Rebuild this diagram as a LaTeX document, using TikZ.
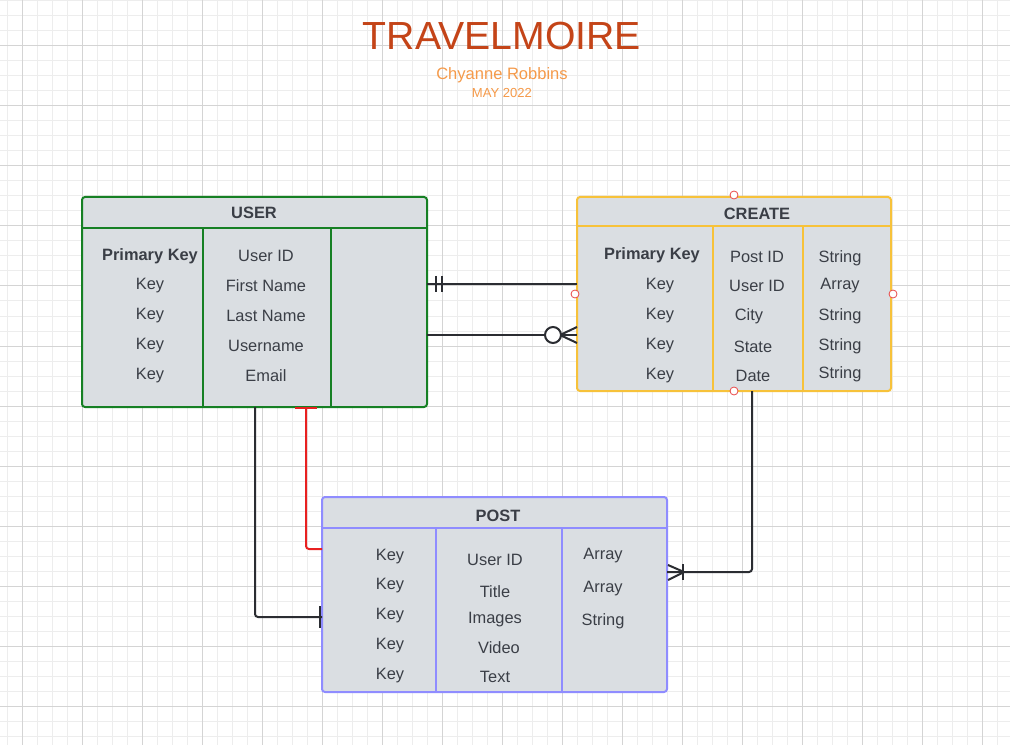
\documentclass[tikz,border=0pt]{standalone}
\usepackage{fontspec}
\setmainfont{Liberation Sans}
\usetikzlibrary{calc}
\definecolor{gridminor}{RGB}{237,237,237}
\definecolor{gridmajor}{RGB}{212,212,212}
\definecolor{tabfill}{RGB}{218,222,226}
\definecolor{celltext}{RGB}{58,62,70}
\definecolor{usergreen}{RGB}{22,128,36}
\definecolor{createyellow}{RGB}{247,194,58}
\definecolor{postblue}{RGB}{143,140,255}
\definecolor{erdark}{RGB}{43,45,50}
\definecolor{erred}{RGB}{232,32,32}
\definecolor{titlered}{RGB}{196,68,24}
\definecolor{authororange}{RGB}{245,154,74}
\definecolor{handlered}{RGB}{232,72,72}
\begin{document}
\begin{tikzpicture}[x=0.75pt,y=-0.75pt,
  tab/.style={draw, line width=1.5pt, fill=tabfill, rounded corners=2.25pt, inner sep=0pt, outer sep=0pt},
  cell/.style={text=celltext, font=\fontsize{12.3}{14}\selectfont, inner sep=0pt, yshift=-1.5pt},
  head/.style={text=celltext, font=\fontsize{12.3}{14}\selectfont\bfseries, inner sep=0pt, yshift=-1.5pt},
  erline/.style={draw=erdark, line width=1.5pt, rounded corners=2.25pt},
  handle/.style={draw=handlered, fill=white, line width=0.6pt, circle, inner sep=0pt, minimum size=6pt}]
\useasboundingbox (0,0) rectangle (1010,745);
\fill[white] (0,0) rectangle (1010,745);
% Drawing grid
\foreach \x in {7,22,...,997} \draw[gridminor, line width=0.75pt] (\x,0) -- (\x,745);
\foreach \y in {1,16,...,736} \draw[gridminor, line width=0.75pt] (0,\y) -- (1010,\y);
\foreach \x in {22,82,...,982} \draw[gridmajor, line width=0.75pt] (\x,0) -- (\x,745);
\foreach \y in {46,106,...,706} \draw[gridmajor, line width=0.75pt] (0,\y) -- (1010,\y);
% Title
\node[text=titlered, font=\fontsize{29.4}{32}\selectfont, inner sep=0pt] (title) at (502,36) {TRAVELMOIRE};
\node[text=authororange, font=\fontsize{12.4}{14}\selectfont, inner sep=0pt] (author) at (502,75) {Chyanne Robbins};
\node[text=authororange, font=\fontsize{9.8}{12}\selectfont, inner sep=0pt] (date) at (502,93) {MAY 2022};
% Table USER
\node[tab, draw=usergreen, minimum width=258.75pt, minimum height=157.5pt] (user) at (254.5,302) {};
\draw[usergreen, line width=1.5pt] (user.west |- 0,228) -- (user.east |- 0,228);
\draw[usergreen, line width=1.5pt] (203,228) -- (user.south -| 203,0);
\draw[usergreen, line width=1.5pt] (331,228) -- (user.south -| 331,0);
\node[head] (userhead) at (254,211) {USER};
\node[head] (userpk) at (150,254) {Primary Key};
\foreach \y [count=\i] in {284,314,344,374} \node[cell] (userkey\i) at (150,\y) {Key};
\node[cell] (useruid) at (266,254) {User ID};
\node[cell] (userfirst) at (266,284) {First Name};
\node[cell] (userlast) at (266,314) {Last Name};
\node[cell] (username) at (266,344) {Username};
\node[cell] (useremail) at (266,374) {Email};
% Table CREATE
\node[tab, draw=createyellow, minimum width=235.5pt, minimum height=145.5pt] (create) at (734,294) {};
\draw[createyellow, line width=1.5pt] (create.west |- 0,226) -- (create.east |- 0,226);
\draw[createyellow, line width=1.5pt] (713,226) -- (create.south -| 713,0);
\draw[createyellow, line width=1.5pt] (803,226) -- (create.south -| 803,0);
\node[head] (createhead) at (757,212) {CREATE};
\node[head] (createpk) at (652,253) {Primary Key};
\foreach \y [count=\i] in {284,314,344,374} \node[cell] (createkey\i) at (660,\y) {Key};
\node[cell] (createpid) at (757,255) {Post ID};
\node[cell] (createuid) at (757,284) {User ID};
\node[cell] (createcity) at (749,314) {City};
\node[cell] (createstate) at (753,345) {State};
\node[cell] (createdate) at (753,374) {Date};
\node[cell] (createt1) at (840,256) {String};
\node[cell] (createt2) at (840,284) {Array};
\node[cell] (createt3) at (840,314) {String};
\node[cell] (createt4) at (840,344) {String};
\node[cell] (createt5) at (840,372) {String};
% Table POST
\node[tab, draw=postblue, minimum width=258.75pt, minimum height=146.25pt] (post) at (494.5,594.5) {};
\draw[postblue, line width=1.5pt] (post.west |- 0,528) -- (post.east |- 0,528);
\draw[postblue, line width=1.5pt] (436,528) -- (post.south -| 436,0);
\draw[postblue, line width=1.5pt] (562,528) -- (post.south -| 562,0);
\node[head] (posthead) at (498,514) {POST};
\foreach \y [count=\i] in {555,584,614,644,674} \node[cell] (postkey\i) at (390,\y) {Key};
\node[cell] (postuid) at (495,558) {User ID};
\node[cell] (posttitle) at (495,590) {Title};
\node[cell] (postimages) at (495,618) {Images};
\node[cell] (postvideo) at (499,646) {Video};
\node[cell] (posttext) at (495,675) {Text};
\node[cell] (postt1) at (603,554) {Array};
\node[cell] (postt2) at (603,587) {Array};
\node[cell] (postt3) at (603,619) {String};
% Drawing connectors
% USER -- CREATE: one and only one
\coordinate (u1) at (user.east |- 0,284);
\draw[erline] (u1) -- (create.west |- 0,284);
\draw[erline] (u1) ++(9,-8) -- ++(0,16);
\draw[erline] (u1) ++(15,-8) -- ++(0,16);
% USER -- CREATE: zero or many
\coordinate (c2) at (create.west |- 0,335);
\draw[erline] (user.east |- 0,335) -- (c2);
\draw[erline] (c2) ++(-17,0) -- ++(17,-8);
\draw[erline] (c2) ++(-17,0) -- ++(17,8);
\draw[erline, fill=white] (c2) ++(-24,0) circle (6pt);
% USER -- POST (red)
\coordinate (r3) at (user.south -| 306,0);
\draw[erline, draw=erred] (r3) |- (post.west |- 0,549);
\draw[erline, draw=erred] (r3) ++(-11,1) -- ++(22,0);
% USER -- POST
\coordinate (p4) at (post.west |- 0,617);
\draw[erline] (user.south -| 255,0) |- (p4);
\draw[erline] (p4) ++(-2,-11) -- ++(0,22);
% CREATE -- POST: one or many
\coordinate (p5) at (post.east |- 0,572);
\draw[erline] (create.south -| 752,0) |- (p5);
\draw[erline] (p5) ++(16,-8) -- ++(0,16);
\draw[erline] (p5) ++(17,0) -- ++(-16,-7);
\draw[erline] (p5) ++(17,0) -- ++(-16,8);
% Selection handles on CREATE
\node[handle] (hn) at ([yshift=1.5pt]create.north) {};
\node[handle] (hw) at ([xshift=-1.5pt]create.west) {};
\node[handle] (he) at ([xshift=1.5pt]create.east) {};
\node[handle] (hs) at (create.south) {};
\end{tikzpicture}
\end{document}
